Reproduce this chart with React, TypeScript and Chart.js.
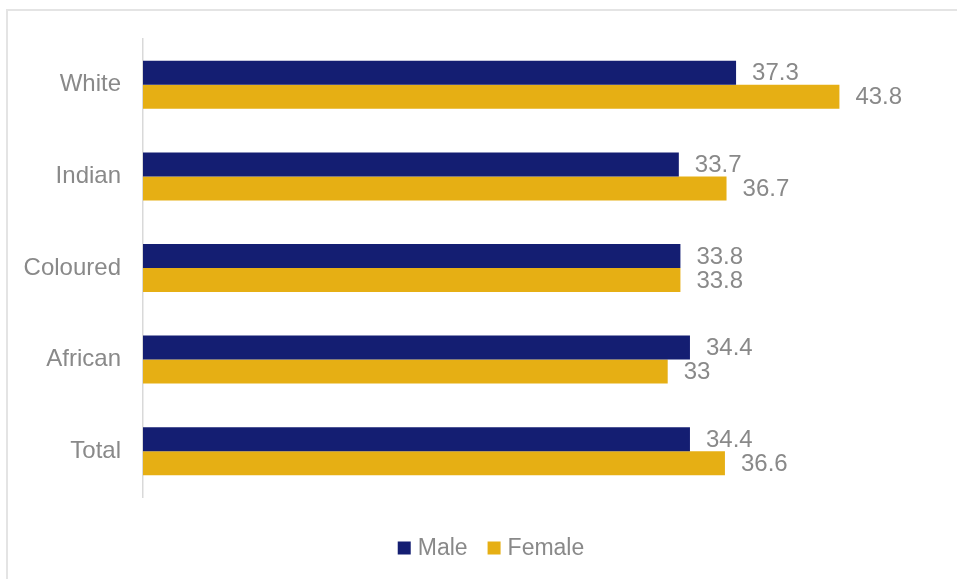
import React, { useEffect, useRef } from "react";
import { Chart, registerables } from "chart.js";

Chart.register(...registerables);

const categories = ["White", "Indian", "Coloured", "African", "Total"];
const maleValues = [37.3, 33.7, 33.8, 34.4, 34.4];
const femaleValues = [43.8, 36.7, 33.8, 33, 36.6];
const seriesNames = ["Male", "Female"];
const seriesColors = ["#141E72", "#E6AF14"];

const TEXT_GRAY = "#898989";
const FONT_FAMILY = "'Liberation Sans', Arial, sans-serif";

const valueLabelPlugin = {
  id: "valueLabels",
  afterDatasetsDraw(chart: any) {
    const ctx = chart.ctx;
    ctx.save();
    ctx.font = `24px ${FONT_FAMILY}`;
    ctx.fillStyle = TEXT_GRAY;
    ctx.textAlign = "left";
    ctx.textBaseline = "middle";
    chart.data.datasets.forEach((ds: any, di: number) => {
      const meta = chart.getDatasetMeta(di);
      meta.data.forEach((bar: any, i: number) => {
        ctx.fillText(String(ds.data[i]), bar.x + 16, bar.y + 1);
      });
    });
    ctx.restore();
  },
};

const customLegendPlugin = {
  id: "customLegend",
  afterDraw(chart: any) {
    const ctx = chart.ctx;
    const box = 13;
    const gapBoxText = 7;
    const gapItems = 20;
    const centerX = 491;
    const centerY = 548;
    ctx.save();
    ctx.font = `23px ${FONT_FAMILY}`;
    const items = chart.data.datasets.map((ds: any) => ({
      label: ds.label,
      color: ds.backgroundColor,
      w: ctx.measureText(ds.label).width,
    }));
    const total =
      items.reduce((s: number, it: any) => s + box + gapBoxText + it.w, 0) +
      gapItems * (items.length - 1);
    let x = centerX - total / 2;
    ctx.textBaseline = "middle";
    ctx.textAlign = "left";
    items.forEach((it: any) => {
      ctx.fillStyle = it.color;
      ctx.fillRect(x, centerY - box / 2, box, box);
      x += box + gapBoxText;
      ctx.fillStyle = TEXT_GRAY;
      ctx.fillText(it.label, x, centerY + 1);
      x += it.w + gapItems;
    });
    ctx.restore();
  },
};

export default function App() {
  const canvasRef = useRef<HTMLCanvasElement | null>(null);

  useEffect(() => {
    if (!canvasRef.current) return;
    const chart = new Chart(canvasRef.current, {
      type: "bar",
      data: {
        labels: categories,
        datasets: [
          {
            label: seriesNames[0],
            data: maleValues,
            backgroundColor: seriesColors[0],
            barPercentage: 1,
            categoryPercentage: 0.524,
          },
          {
            label: seriesNames[1],
            data: femaleValues,
            backgroundColor: seriesColors[1],
            barPercentage: 1,
            categoryPercentage: 0.524,
          },
        ],
      },
      options: {
        indexAxis: "y",
        animation: false,
        responsive: false,
        maintainAspectRatio: false,
        layout: { padding: { top: 39, right: 19, bottom: 0, left: 0 } },
        plugins: {
          legend: { display: false },
          tooltip: { enabled: false },
        },
        scales: {
          x: {
            min: 0,
            max: 50,
            ticks: { display: false },
            grid: { display: false, drawTicks: false },
            border: { display: false },
            afterFit: (scale: any) => {
              scale.height = 82;
            },
          },
          y: {
            ticks: {
              color: TEXT_GRAY,
              font: { family: FONT_FAMILY, size: 24 },
              padding: 22,
            },
            grid: { display: false, drawTicks: false },
            border: { display: true, color: "#d9d9d9", width: 1.5 },
            afterFit: (scale: any) => {
              scale.width = 143;
            },
          },
        },
      },
      plugins: [valueLabelPlugin, customLegendPlugin],
    } as any);
    return () => chart.destroy();
  }, []);

  return (
    <div style={{ position: "absolute", left: 0, top: 0, width: 957, height: 579, overflow: "hidden", background: "#fff" }}>
      <div
        style={{
          position: "absolute",
          left: 6,
          top: 9,
          width: 980,
          height: 600,
          border: "2px solid #e4e4e4",
          boxSizing: "border-box",
        }}
      />
      <canvas
        ref={canvasRef}
        width={957}
        height={579}
        style={{ position: "absolute", left: 0, top: 0, width: 957, height: 579 }}
      />
    </div>
  );
}
